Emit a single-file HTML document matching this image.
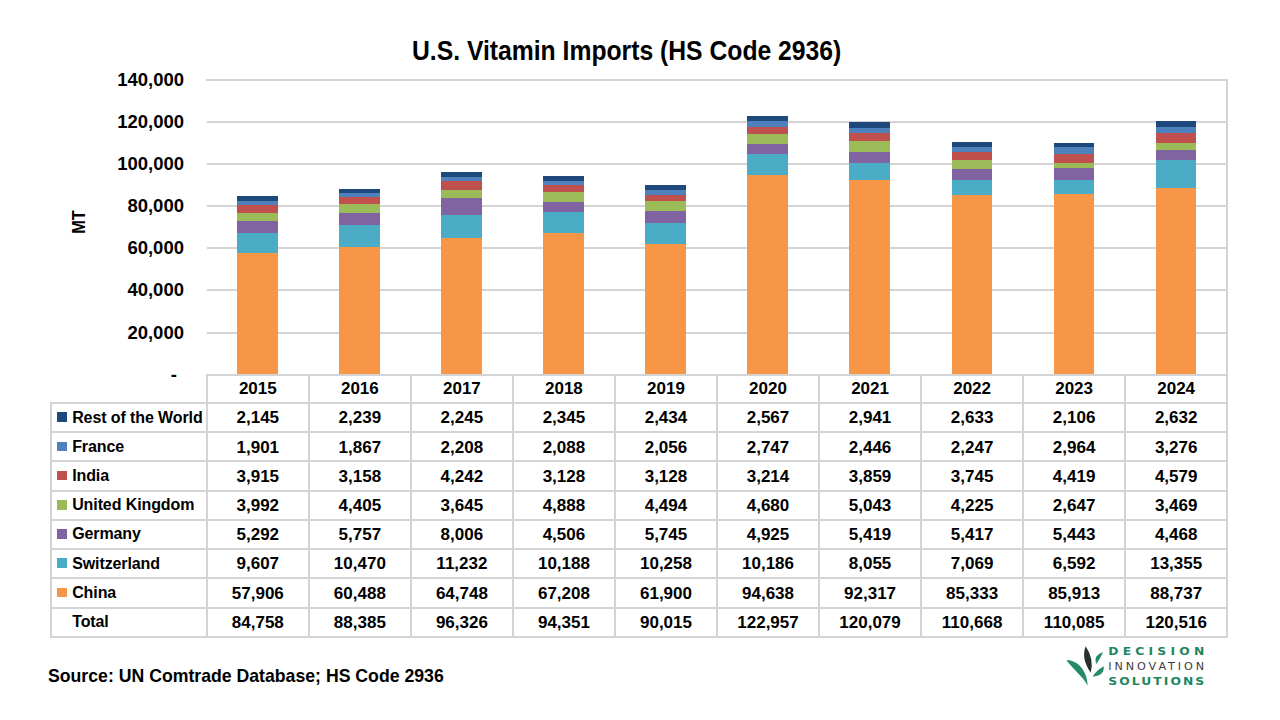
<!DOCTYPE html>
<html><head><meta charset="utf-8"><title>U.S. Vitamin Imports (HS Code 2936)</title>
<style>
html,body{margin:0;padding:0;background:#fff;}
body{width:1280px;height:720px;position:relative;overflow:hidden;font-family:"Liberation Sans",Arial,sans-serif;font-weight:bold;color:#000;}
.title{position:absolute;left:411.5px;top:35px;font-size:26.8px;line-height:32px;white-space:nowrap;transform-origin:0 0;transform:scaleX(0.922);}
.gl{position:absolute;left:206.8px;width:1020.4000000000001px;height:2px;background:#D4D4D4;}
.yl{position:absolute;left:60px;width:124px;text-align:right;font-size:18.5px;line-height:22px;}
.mt{position:absolute;left:59px;top:211px;width:40px;height:22px;font-size:18.5px;line-height:22px;transform:rotate(-90deg) scaleX(0.88);text-align:center;}
.bar{position:absolute;width:40.6px;}
.cell{position:absolute;text-align:center;font-size:17px;display:flex;align-items:center;justify-content:center;box-sizing:border-box;padding-top:1.4px;}
.cell.hd{padding-top:1.2px;}
.lab{position:absolute;left:50.6px;width:156.20000000000002px;display:flex;align-items:center;font-size:16px;box-sizing:border-box;padding-top:0px;}
.sw{display:inline-block;width:9.7px;height:9.5px;margin-left:6.7px;margin-right:5.2px;flex:none;position:relative;top:-0.5px;}
.lab .lt{white-space:nowrap;letter-spacing:-0.1px;}
.hl{position:absolute;height:2px;background:#D4D4D4;}
.vl{position:absolute;width:2px;background:#D4D4D4;}
.src{position:absolute;left:48px;top:663.8px;font-size:19px;line-height:24px;white-space:nowrap;transform-origin:0 0;transform:scaleX(0.93);}
.logo text{font-family:"DejaVu Sans",sans-serif;font-size:11.2px;}
.logo .l1{fill:#1F8560;font-weight:bold;}
.logo .l2{fill:#3C3C3C;font-weight:normal;}
</style></head><body>
<div class="title">U.S. Vitamin Imports (HS Code 2936)</div>
<div class="mt">MT</div>
<div class="gl" style="top:331.51px"></div><div class="gl" style="top:289.43px"></div><div class="gl" style="top:247.34px"></div><div class="gl" style="top:205.26px"></div><div class="gl" style="top:163.17px"></div><div class="gl" style="top:121.09px"></div><div class="gl" style="top:79.00px"></div><div class="yl" style="top:363.60px;width:117px">-</div><div class="yl" style="top:321.51px">20,000</div><div class="yl" style="top:279.43px">40,000</div><div class="yl" style="top:237.34px">60,000</div><div class="yl" style="top:195.26px">80,000</div><div class="yl" style="top:153.17px">100,000</div><div class="yl" style="top:111.09px">120,000</div><div class="yl" style="top:69.00px">140,000</div><div class="bar" style="left:237.22px;top:252.75px;height:121.85px;background:#F79646"></div><div class="bar" style="left:237.22px;top:232.53px;height:20.22px;background:#4BACC6"></div><div class="bar" style="left:237.22px;top:221.40px;height:11.14px;background:#8064A2"></div><div class="bar" style="left:237.22px;top:213.00px;height:8.40px;background:#9BBB59"></div><div class="bar" style="left:237.22px;top:204.76px;height:8.24px;background:#C0504D"></div><div class="bar" style="left:237.22px;top:200.76px;height:4.00px;background:#4F81BD"></div><div class="bar" style="left:237.22px;top:196.24px;height:4.51px;background:#1F497D"></div><div class="bar" style="left:339.26px;top:247.32px;height:127.28px;background:#F79646"></div><div class="bar" style="left:339.26px;top:225.28px;height:22.03px;background:#4BACC6"></div><div class="bar" style="left:339.26px;top:213.17px;height:12.11px;background:#8064A2"></div><div class="bar" style="left:339.26px;top:203.90px;height:9.27px;background:#9BBB59"></div><div class="bar" style="left:339.26px;top:197.26px;height:6.65px;background:#C0504D"></div><div class="bar" style="left:339.26px;top:193.33px;height:3.93px;background:#4F81BD"></div><div class="bar" style="left:339.26px;top:188.61px;height:4.71px;background:#1F497D"></div><div class="bar" style="left:441.30px;top:238.35px;height:136.25px;background:#F79646"></div><div class="bar" style="left:441.30px;top:214.72px;height:23.64px;background:#4BACC6"></div><div class="bar" style="left:441.30px;top:197.87px;height:16.85px;background:#8064A2"></div><div class="bar" style="left:441.30px;top:190.20px;height:7.67px;background:#9BBB59"></div><div class="bar" style="left:441.30px;top:181.27px;height:8.93px;background:#C0504D"></div><div class="bar" style="left:441.30px;top:176.63px;height:4.65px;background:#4F81BD"></div><div class="bar" style="left:441.30px;top:171.90px;height:4.72px;background:#1F497D"></div><div class="bar" style="left:543.34px;top:233.18px;height:141.42px;background:#F79646"></div><div class="bar" style="left:543.34px;top:211.74px;height:21.44px;background:#4BACC6"></div><div class="bar" style="left:543.34px;top:202.25px;height:9.48px;background:#8064A2"></div><div class="bar" style="left:543.34px;top:191.97px;height:10.29px;background:#9BBB59"></div><div class="bar" style="left:543.34px;top:185.39px;height:6.58px;background:#C0504D"></div><div class="bar" style="left:543.34px;top:180.99px;height:4.39px;background:#4F81BD"></div><div class="bar" style="left:543.34px;top:176.06px;height:4.93px;background:#1F497D"></div><div class="bar" style="left:645.38px;top:244.34px;height:130.26px;background:#F79646"></div><div class="bar" style="left:645.38px;top:222.76px;height:21.59px;background:#4BACC6"></div><div class="bar" style="left:645.38px;top:210.67px;height:12.09px;background:#8064A2"></div><div class="bar" style="left:645.38px;top:201.21px;height:9.46px;background:#9BBB59"></div><div class="bar" style="left:645.38px;top:194.63px;height:6.58px;background:#C0504D"></div><div class="bar" style="left:645.38px;top:190.30px;height:4.33px;background:#4F81BD"></div><div class="bar" style="left:645.38px;top:185.18px;height:5.12px;background:#1F497D"></div><div class="bar" style="left:747.42px;top:175.45px;height:199.15px;background:#F79646"></div><div class="bar" style="left:747.42px;top:154.02px;height:21.43px;background:#4BACC6"></div><div class="bar" style="left:747.42px;top:143.66px;height:10.36px;background:#8064A2"></div><div class="bar" style="left:747.42px;top:133.81px;height:9.85px;background:#9BBB59"></div><div class="bar" style="left:747.42px;top:127.05px;height:6.76px;background:#C0504D"></div><div class="bar" style="left:747.42px;top:121.27px;height:5.78px;background:#4F81BD"></div><div class="bar" style="left:747.42px;top:115.86px;height:5.40px;background:#1F497D"></div><div class="bar" style="left:849.46px;top:180.34px;height:194.26px;background:#F79646"></div><div class="bar" style="left:849.46px;top:163.39px;height:16.95px;background:#4BACC6"></div><div class="bar" style="left:849.46px;top:151.99px;height:11.40px;background:#8064A2"></div><div class="bar" style="left:849.46px;top:141.37px;height:10.61px;background:#9BBB59"></div><div class="bar" style="left:849.46px;top:133.25px;height:8.12px;background:#C0504D"></div><div class="bar" style="left:849.46px;top:128.11px;height:5.15px;background:#4F81BD"></div><div class="bar" style="left:849.46px;top:121.92px;height:6.19px;background:#1F497D"></div><div class="bar" style="left:951.50px;top:195.03px;height:179.57px;background:#F79646"></div><div class="bar" style="left:951.50px;top:180.16px;height:14.88px;background:#4BACC6"></div><div class="bar" style="left:951.50px;top:168.76px;height:11.40px;background:#8064A2"></div><div class="bar" style="left:951.50px;top:159.87px;height:8.89px;background:#9BBB59"></div><div class="bar" style="left:951.50px;top:151.99px;height:7.88px;background:#C0504D"></div><div class="bar" style="left:951.50px;top:147.26px;height:4.73px;background:#4F81BD"></div><div class="bar" style="left:951.50px;top:141.72px;height:5.54px;background:#1F497D"></div><div class="bar" style="left:1053.54px;top:193.81px;height:180.79px;background:#F79646"></div><div class="bar" style="left:1053.54px;top:179.94px;height:13.87px;background:#4BACC6"></div><div class="bar" style="left:1053.54px;top:168.49px;height:11.45px;background:#8064A2"></div><div class="bar" style="left:1053.54px;top:162.92px;height:5.57px;background:#9BBB59"></div><div class="bar" style="left:1053.54px;top:153.62px;height:9.30px;background:#C0504D"></div><div class="bar" style="left:1053.54px;top:147.38px;height:6.24px;background:#4F81BD"></div><div class="bar" style="left:1053.54px;top:142.95px;height:4.43px;background:#1F497D"></div><div class="bar" style="left:1155.58px;top:187.87px;height:186.73px;background:#F79646"></div><div class="bar" style="left:1155.58px;top:159.77px;height:28.10px;background:#4BACC6"></div><div class="bar" style="left:1155.58px;top:150.37px;height:9.40px;background:#8064A2"></div><div class="bar" style="left:1155.58px;top:143.07px;height:7.30px;background:#9BBB59"></div><div class="bar" style="left:1155.58px;top:133.43px;height:9.64px;background:#C0504D"></div><div class="bar" style="left:1155.58px;top:126.54px;height:6.89px;background:#4F81BD"></div><div class="bar" style="left:1155.58px;top:121.00px;height:5.54px;background:#1F497D"></div><div class="cell hd" style="left:206.80px;top:374.6px;width:102.04px;height:28.40px">2015</div><div class="cell hd" style="left:308.84px;top:374.6px;width:102.04px;height:28.40px">2016</div><div class="cell hd" style="left:410.88px;top:374.6px;width:102.04px;height:28.40px">2017</div><div class="cell hd" style="left:512.92px;top:374.6px;width:102.04px;height:28.40px">2018</div><div class="cell hd" style="left:614.96px;top:374.6px;width:102.04px;height:28.40px">2019</div><div class="cell hd" style="left:717.00px;top:374.6px;width:102.04px;height:28.40px">2020</div><div class="cell hd" style="left:819.04px;top:374.6px;width:102.04px;height:28.40px">2021</div><div class="cell hd" style="left:921.08px;top:374.6px;width:102.04px;height:28.40px">2022</div><div class="cell hd" style="left:1023.12px;top:374.6px;width:102.04px;height:28.40px">2023</div><div class="cell hd" style="left:1125.16px;top:374.6px;width:102.04px;height:28.40px">2024</div><div class="lab" style="top:403.00px;height:29.22px"><span class="sw" style="background:#1F497D"></span><span class="lt">Rest of the World</span></div><div class="cell" style="left:206.80px;top:403.00px;width:102.04px;height:29.22px">2,145</div><div class="cell" style="left:308.84px;top:403.00px;width:102.04px;height:29.22px">2,239</div><div class="cell" style="left:410.88px;top:403.00px;width:102.04px;height:29.22px">2,245</div><div class="cell" style="left:512.92px;top:403.00px;width:102.04px;height:29.22px">2,345</div><div class="cell" style="left:614.96px;top:403.00px;width:102.04px;height:29.22px">2,434</div><div class="cell" style="left:717.00px;top:403.00px;width:102.04px;height:29.22px">2,567</div><div class="cell" style="left:819.04px;top:403.00px;width:102.04px;height:29.22px">2,941</div><div class="cell" style="left:921.08px;top:403.00px;width:102.04px;height:29.22px">2,633</div><div class="cell" style="left:1023.12px;top:403.00px;width:102.04px;height:29.22px">2,106</div><div class="cell" style="left:1125.16px;top:403.00px;width:102.04px;height:29.22px">2,632</div><div class="lab" style="top:432.22px;height:29.22px"><span class="sw" style="background:#4F81BD"></span><span class="lt">France</span></div><div class="cell" style="left:206.80px;top:432.22px;width:102.04px;height:29.22px">1,901</div><div class="cell" style="left:308.84px;top:432.22px;width:102.04px;height:29.22px">1,867</div><div class="cell" style="left:410.88px;top:432.22px;width:102.04px;height:29.22px">2,208</div><div class="cell" style="left:512.92px;top:432.22px;width:102.04px;height:29.22px">2,088</div><div class="cell" style="left:614.96px;top:432.22px;width:102.04px;height:29.22px">2,056</div><div class="cell" style="left:717.00px;top:432.22px;width:102.04px;height:29.22px">2,747</div><div class="cell" style="left:819.04px;top:432.22px;width:102.04px;height:29.22px">2,446</div><div class="cell" style="left:921.08px;top:432.22px;width:102.04px;height:29.22px">2,247</div><div class="cell" style="left:1023.12px;top:432.22px;width:102.04px;height:29.22px">2,964</div><div class="cell" style="left:1125.16px;top:432.22px;width:102.04px;height:29.22px">3,276</div><div class="lab" style="top:461.44px;height:29.22px"><span class="sw" style="background:#C0504D"></span><span class="lt">India</span></div><div class="cell" style="left:206.80px;top:461.44px;width:102.04px;height:29.22px">3,915</div><div class="cell" style="left:308.84px;top:461.44px;width:102.04px;height:29.22px">3,158</div><div class="cell" style="left:410.88px;top:461.44px;width:102.04px;height:29.22px">4,242</div><div class="cell" style="left:512.92px;top:461.44px;width:102.04px;height:29.22px">3,128</div><div class="cell" style="left:614.96px;top:461.44px;width:102.04px;height:29.22px">3,128</div><div class="cell" style="left:717.00px;top:461.44px;width:102.04px;height:29.22px">3,214</div><div class="cell" style="left:819.04px;top:461.44px;width:102.04px;height:29.22px">3,859</div><div class="cell" style="left:921.08px;top:461.44px;width:102.04px;height:29.22px">3,745</div><div class="cell" style="left:1023.12px;top:461.44px;width:102.04px;height:29.22px">4,419</div><div class="cell" style="left:1125.16px;top:461.44px;width:102.04px;height:29.22px">4,579</div><div class="lab" style="top:490.66px;height:29.22px"><span class="sw" style="background:#9BBB59"></span><span class="lt">United Kingdom</span></div><div class="cell" style="left:206.80px;top:490.66px;width:102.04px;height:29.22px">3,992</div><div class="cell" style="left:308.84px;top:490.66px;width:102.04px;height:29.22px">4,405</div><div class="cell" style="left:410.88px;top:490.66px;width:102.04px;height:29.22px">3,645</div><div class="cell" style="left:512.92px;top:490.66px;width:102.04px;height:29.22px">4,888</div><div class="cell" style="left:614.96px;top:490.66px;width:102.04px;height:29.22px">4,494</div><div class="cell" style="left:717.00px;top:490.66px;width:102.04px;height:29.22px">4,680</div><div class="cell" style="left:819.04px;top:490.66px;width:102.04px;height:29.22px">5,043</div><div class="cell" style="left:921.08px;top:490.66px;width:102.04px;height:29.22px">4,225</div><div class="cell" style="left:1023.12px;top:490.66px;width:102.04px;height:29.22px">2,647</div><div class="cell" style="left:1125.16px;top:490.66px;width:102.04px;height:29.22px">3,469</div><div class="lab" style="top:519.88px;height:29.22px"><span class="sw" style="background:#8064A2"></span><span class="lt">Germany</span></div><div class="cell" style="left:206.80px;top:519.88px;width:102.04px;height:29.22px">5,292</div><div class="cell" style="left:308.84px;top:519.88px;width:102.04px;height:29.22px">5,757</div><div class="cell" style="left:410.88px;top:519.88px;width:102.04px;height:29.22px">8,006</div><div class="cell" style="left:512.92px;top:519.88px;width:102.04px;height:29.22px">4,506</div><div class="cell" style="left:614.96px;top:519.88px;width:102.04px;height:29.22px">5,745</div><div class="cell" style="left:717.00px;top:519.88px;width:102.04px;height:29.22px">4,925</div><div class="cell" style="left:819.04px;top:519.88px;width:102.04px;height:29.22px">5,419</div><div class="cell" style="left:921.08px;top:519.88px;width:102.04px;height:29.22px">5,417</div><div class="cell" style="left:1023.12px;top:519.88px;width:102.04px;height:29.22px">5,443</div><div class="cell" style="left:1125.16px;top:519.88px;width:102.04px;height:29.22px">4,468</div><div class="lab" style="top:549.10px;height:29.22px"><span class="sw" style="background:#4BACC6"></span><span class="lt">Switzerland</span></div><div class="cell" style="left:206.80px;top:549.10px;width:102.04px;height:29.22px">9,607</div><div class="cell" style="left:308.84px;top:549.10px;width:102.04px;height:29.22px">10,470</div><div class="cell" style="left:410.88px;top:549.10px;width:102.04px;height:29.22px">11,232</div><div class="cell" style="left:512.92px;top:549.10px;width:102.04px;height:29.22px">10,188</div><div class="cell" style="left:614.96px;top:549.10px;width:102.04px;height:29.22px">10,258</div><div class="cell" style="left:717.00px;top:549.10px;width:102.04px;height:29.22px">10,186</div><div class="cell" style="left:819.04px;top:549.10px;width:102.04px;height:29.22px">8,055</div><div class="cell" style="left:921.08px;top:549.10px;width:102.04px;height:29.22px">7,069</div><div class="cell" style="left:1023.12px;top:549.10px;width:102.04px;height:29.22px">6,592</div><div class="cell" style="left:1125.16px;top:549.10px;width:102.04px;height:29.22px">13,355</div><div class="lab" style="top:578.32px;height:29.22px"><span class="sw" style="background:#F79646"></span><span class="lt">China</span></div><div class="cell" style="left:206.80px;top:578.32px;width:102.04px;height:29.22px">57,906</div><div class="cell" style="left:308.84px;top:578.32px;width:102.04px;height:29.22px">60,488</div><div class="cell" style="left:410.88px;top:578.32px;width:102.04px;height:29.22px">64,748</div><div class="cell" style="left:512.92px;top:578.32px;width:102.04px;height:29.22px">67,208</div><div class="cell" style="left:614.96px;top:578.32px;width:102.04px;height:29.22px">61,900</div><div class="cell" style="left:717.00px;top:578.32px;width:102.04px;height:29.22px">94,638</div><div class="cell" style="left:819.04px;top:578.32px;width:102.04px;height:29.22px">92,317</div><div class="cell" style="left:921.08px;top:578.32px;width:102.04px;height:29.22px">85,333</div><div class="cell" style="left:1023.12px;top:578.32px;width:102.04px;height:29.22px">85,913</div><div class="cell" style="left:1125.16px;top:578.32px;width:102.04px;height:29.22px">88,737</div><div class="lab" style="top:607.54px;height:29.22px"><span class="sw"></span><span class="lt">Total</span></div><div class="cell" style="left:206.80px;top:607.54px;width:102.04px;height:29.22px">84,758</div><div class="cell" style="left:308.84px;top:607.54px;width:102.04px;height:29.22px">88,385</div><div class="cell" style="left:410.88px;top:607.54px;width:102.04px;height:29.22px">96,326</div><div class="cell" style="left:512.92px;top:607.54px;width:102.04px;height:29.22px">94,351</div><div class="cell" style="left:614.96px;top:607.54px;width:102.04px;height:29.22px">90,015</div><div class="cell" style="left:717.00px;top:607.54px;width:102.04px;height:29.22px">122,957</div><div class="cell" style="left:819.04px;top:607.54px;width:102.04px;height:29.22px">120,079</div><div class="cell" style="left:921.08px;top:607.54px;width:102.04px;height:29.22px">110,668</div><div class="cell" style="left:1023.12px;top:607.54px;width:102.04px;height:29.22px">110,085</div><div class="cell" style="left:1125.16px;top:607.54px;width:102.04px;height:29.22px">120,516</div>
<div class="hl" style="left:205.80px;top:373.60px;width:1022.40px"></div><div class="hl" style="left:49.60px;top:402.00px;width:1178.60px"></div><div class="hl" style="left:49.60px;top:431.22px;width:1178.60px"></div><div class="hl" style="left:49.60px;top:460.44px;width:1178.60px"></div><div class="hl" style="left:49.60px;top:489.66px;width:1178.60px"></div><div class="hl" style="left:49.60px;top:518.88px;width:1178.60px"></div><div class="hl" style="left:49.60px;top:548.10px;width:1178.60px"></div><div class="hl" style="left:49.60px;top:577.32px;width:1178.60px"></div><div class="hl" style="left:49.60px;top:606.54px;width:1178.60px"></div><div class="hl" style="left:49.60px;top:635.76px;width:1178.60px"></div><div class="vl" style="left:205.80px;top:373.60px;height:264.16px"></div><div class="vl" style="left:307.84px;top:373.60px;height:264.16px"></div><div class="vl" style="left:409.88px;top:373.60px;height:264.16px"></div><div class="vl" style="left:511.92px;top:373.60px;height:264.16px"></div><div class="vl" style="left:613.96px;top:373.60px;height:264.16px"></div><div class="vl" style="left:716.00px;top:373.60px;height:264.16px"></div><div class="vl" style="left:818.04px;top:373.60px;height:264.16px"></div><div class="vl" style="left:920.08px;top:373.60px;height:264.16px"></div><div class="vl" style="left:1022.12px;top:373.60px;height:264.16px"></div><div class="vl" style="left:1124.16px;top:373.60px;height:264.16px"></div><div class="vl" style="left:1226.20px;top:373.60px;height:264.16px"></div><div class="vl" style="left:49.60px;top:402.00px;height:235.76px"></div><div class="vl" style="left:1226.45px;top:79.00px;height:296.60px;width:1.5px"></div><div class="hl" style="left:205.80px;top:79.00px;width:1022.40px"></div>
<div class="src">Source: UN Comtrade Database; HS Code 2936</div>

<svg class="logo" width="160" height="50" viewBox="0 0 160 50" style="position:absolute;left:1060px;top:640px">
  <path d="M6.3 20.3 C 14 19.5, 27 27, 27.7 45.7 C 24 38, 14 30, 6.3 20.3 Z" fill="#238B65"/>
  <path d="M25.7 6.3 Q 20.8 18.5, 30.7 32.7 Q 34.4 19.5, 25.7 6.3 Z" fill="#27302A"/>
  <path d="M43 12 Q 33.5 15, 36 24 Q 39.5 20, 43 12 Z" fill="#238B65"/>
  <path d="M43.7 26.3 Q 35.8 30.9, 32.7 36.7 Q 44.8 35.5, 43.7 26.3 Z" fill="#238B65"/>
  <text transform="translate(48.2 14.9) scale(1.1 1)" x="0" y="0" class="l1" textLength="87.3" lengthAdjust="spacing">DECISION</text>
  <text x="48.2" y="30.1" class="l2" textLength="96" lengthAdjust="spacing">INNOVATION</text>
  <text transform="translate(48.2 45.1) scale(1.1 1)" x="0" y="0" class="l1" textLength="87.3" lengthAdjust="spacing">SOLUTIONS</text>
</svg>

</body></html>
